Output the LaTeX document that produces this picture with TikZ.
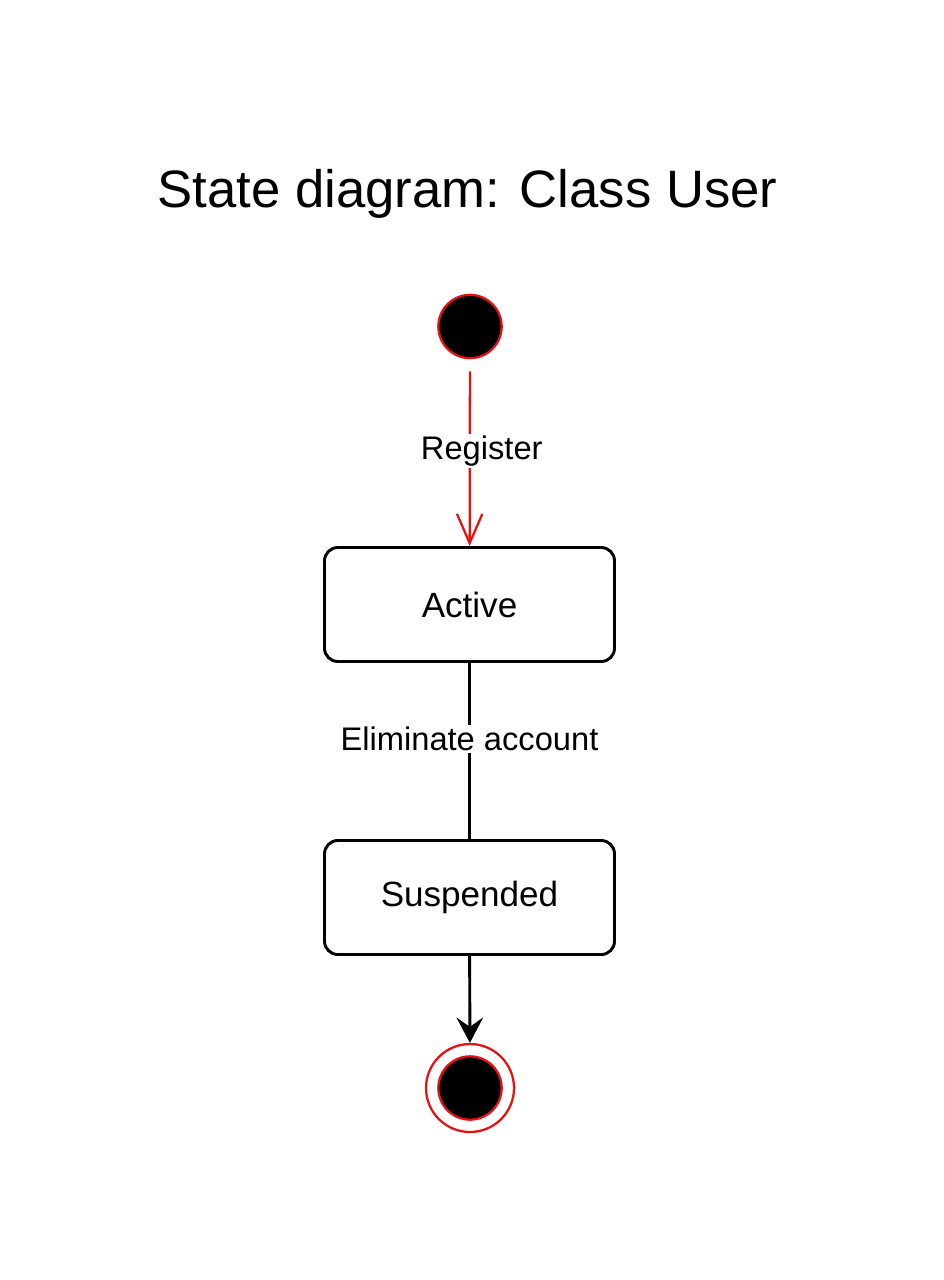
\documentclass[tikz,border=0pt]{standalone}
\usepackage{fontspec}
\setmainfont{Liberation Sans}
\usepackage{xcolor}
\definecolor{umlRed}{HTML}{E81010}
\definecolor{umlDark}{HTML}{000000}
\usepackage{tikz}
\usetikzlibrary{shapes,arrows.meta,positioning}
\tikzset{
    state/.style={
        draw=umlDark,
        fill=white,
        rectangle,
        rounded corners=10pt,
        align=center,
        minimum height=85.5pt,
        minimum width=217.5pt,
        line width=2.2pt,
        font=\fontsize{26.3}{31}\selectfont
    },
    initial/.style={
        draw=umlRed,
        fill=black,
        circle,
        minimum size=47.5pt,
        inner sep=0pt,
        line width=1.7pt
    },
    finalring/.style={
        draw=umlRed,
        fill=white,
        circle,
        minimum size=66pt,
        inner sep=0pt,
        line width=1.7pt
    },
    regarrow/.style={
        -{Straight Barb[length=22pt,width=19pt,line width=1.7pt]},
        line width=1.7pt,
        color=umlRed
    },
    arrow/.style={
        -{Stealth[length=19pt,width=20pt,inset=7pt]},
        line width=2.2pt,
        color=umlDark
    },
    plain/.style={
        line width=2.2pt,
        color=umlDark
    },
    label/.style={
        font=\fontsize{24.5}{29}\selectfont,
        text=black,
        fill=white,
        inner sep=1.5pt
    }
}

\begin{document}
\begin{tikzpicture}[x=0.75pt,y=-0.75pt]
    \useasboundingbox (0,0) rectangle (943,1280);

    % Title
    \node[anchor=base, font=\fontsize{39.5}{47}\selectfont] (title) at (467.5,208) {State diagram: Class User};

    % States
    \node[initial] (start) at (470,326.5) {};
    \node[state] (active) at (469.5,604.5) {Active};
    \node[state] (suspended) at (469.5,897.5) {Suspended};
    \node[finalring] (final) at (470,1088) {};
    \node[initial] (finaldot) at (470,1088) {};

    % Transitions
    \draw[regarrow, shorten <=9pt] (start) -- (active)
        node[label, pos=0.49, xshift=9pt] {Register};
    \draw[plain] (active) -- (suspended)
        node[label, pos=0.43] {Eliminate account};
    \draw[arrow] (suspended) -- (final);
\end{tikzpicture}
\end{document}
